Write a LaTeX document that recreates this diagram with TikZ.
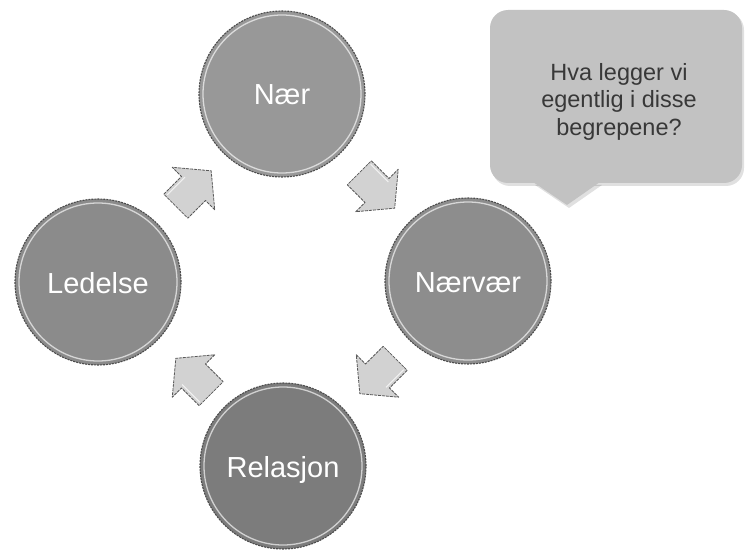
\documentclass[tikz,border=0pt]{standalone}
\usepackage{fontspec}
\setmainfont{Liberation Sans}
\usetikzlibrary{calc}
\definecolor{cNer}{HTML}{989898}
\definecolor{cNervaer}{HTML}{8D8D8D}
\definecolor{cLedelse}{HTML}{8B8B8B}
\definecolor{cRelasjon}{HTML}{7C7C7C}
\definecolor{arrowfill}{HTML}{D2D2D2}
\definecolor{bubblefill}{HTML}{C2C2C2}
\definecolor{bubbletext}{HTML}{383838}
\begin{document}
\begin{tikzpicture}[x=1pt,y=-1pt,
  circ/.style={circle, minimum size=166pt, inner sep=0pt, fill=#1,
    draw=black!70, line width=1.1pt, dash pattern=on 2pt off 1pt,
    text=white, font=\fontsize{29}{34}\selectfont,
    text height=22pt, text depth=0pt},
  ring/.style={white, line width=1.3pt, opacity=.65},
  arrowbody/.style={fill=arrowfill, draw=black!65, line width=0.8pt,
    dash pattern=on 3pt off 1pt, line join=round},
  blockarrow/.pic={\draw[arrowbody] (-25,-17) -- (0,-17) -- (0,-30) -- (25,0)
     -- (0,30) -- (0,17) -- (-25,17) -- cycle;
     \draw[white, line width=1pt, opacity=.7] (-23,-14) -- (2,-14);},
  bubble/.style={fill=bubblefill},
  bubbleshadow/.style={fill=black, opacity=.12},
  qtext/.style={align=center, text=bubbletext,
    font=\fontsize{23.5}{27.5}\selectfont}
]
\useasboundingbox (0,0) rectangle (745,559);

% circles
\node[circ=cNer]      (ner)      at (282,94)  {Nær};
\node[circ=cNervaer]  (nervaer)  at (468,281) {Nærvær};
\node[circ=cLedelse]  (ledelse)  at (98,282)  {Ledelse};
\node[circ=cRelasjon] (relasjon) at (283,466) {Relasjon};
\foreach \n in {ner,nervaer,ledelse,relasjon}{
  \draw[ring] (\n.center) circle[radius=79pt];
}

% block arrows (connectors)
\pic[rotate=-45]  at ($(ner)!0.5!(nervaer)+(2,3)$)         {blockarrow};
\pic[rotate=-135] at ($(nervaer)!0.5!(relasjon)+(2,2.5)$)   {blockarrow};
\pic[rotate=135]  at ($(relasjon)!0.5!(ledelse)+(3,2)$)     {blockarrow};
\pic[rotate=45]   at ($(ledelse)!0.5!(ner)+(3.5,0.5)$)      {blockarrow};

% callout bubble
\fill[bubbleshadow, rounded corners=18pt] (492,12) rectangle (744,186);
\fill[bubbleshadow] (535,185) -- (569,208) -- (602,185) -- cycle;
\fill[bubble, rounded corners=18pt] (490,10) rectangle (742,183);
\fill[bubble] (533,182) -- (567,205) -- (600,182) -- cycle;
\node[qtext] (q) at (619,101.5) {Hva legger vi\\egentlig i disse\\begrepene?};
\end{tikzpicture}
\end{document}
